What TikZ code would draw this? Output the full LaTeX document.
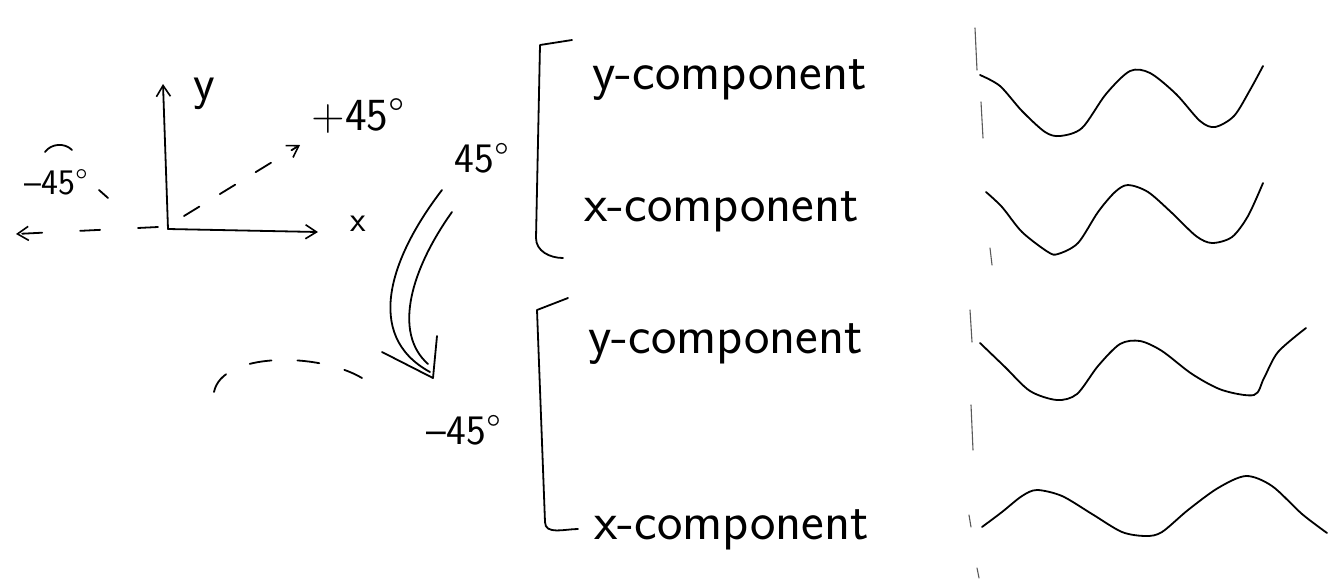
\documentclass[tikz,border=0pt]{standalone}
\usetikzlibrary{arrows.meta}

\tikzset{
  pen/.style={line width=1.8pt, line cap=round, line join=round},
  thinpen/.style={line width=1.1pt, line cap=round, gray!70!black},
  hand/.style={font=\sffamily\fontsize{#1}{#1}\selectfont, inner sep=0pt},
  barb/.style={-{Straight Barb[length=11pt,width=14pt,line width=1.6pt]}}
}

\begin{document}
\begin{tikzpicture}[x=1pt,y=-1pt]
\useasboundingbox (0,0) rectangle (1338,582);

% axes
\coordinate (o) at (168,229);
\coordinate (ytip) at (163,84);
\coordinate (xtip) at (318,232);
\draw[pen,barb] (o) -- (ytip);
\draw[pen,barb] (o) -- (xtip);
\node[hand=50] (ylab) at (204,94) {y};
\node[hand=36] (xlab) at (358,224) {x};

% +45 and -45 directions
\coordinate (ptip) at (300,145);
\coordinate (mtip) at (16,234);
\draw[pen,barb,dash pattern=on 18pt off 24pt] (184,216) -- (ptip);
\draw[pen,barb,dash pattern=on 20pt off 38pt] (158,227) -- (mtip);
\node[hand=46] (plus) at (358,116) {+45\textdegree};
\node[hand=36] (minus) at (56,182) {\textendash45\textdegree};
\draw[pen] (45,152) to[bend left=50] (72,150);
\draw[pen] (99,190) -- (108,198);

% faint arc under the axes
\draw[pen,dash pattern=on 22pt off 26pt] (214,392) .. controls (222,352) and (318,352) .. (362,378);

% turn from +45 to -45
\draw[pen] (442,190) .. controls (392,255) and (362,335) .. (430,372);
\draw[pen] (452,212) .. controls (412,268) and (392,332) .. (428,364);
\draw[pen] (382,352) -- (433,378) -- (437,336);

% 45 group
\node[hand=42] (a1) at (482,158) {45\textdegree};
\draw[pen] (572,40) -- (540,45) -- (536,238) to[out=-90,in=180] (563,258);
\node[hand=54,anchor=west] (y1) at (592,80) {y-component};
\node[hand=54,anchor=west] (x1) at (584,212) {x-component};

% -45 group
\node[hand=42] (a2) at (464,430) {\textendash45\textdegree};
\draw[pen] (568,298) -- (537,310) -- (545,522) to[out=-90,in=180] (578,529);
\node[hand=54,anchor=west] (y2) at (588,344) {y-component};
\node[hand=54,anchor=west] (x2) at (594,530) {x-component};

% waves
\draw[pen] plot[smooth] coordinates {(980,75) (1000,86) (1022,111) (1045,132) (1060,136) (1082,128) (1106,94) (1130,71) (1150,73) (1176,94) (1200,121) (1215,127) (1234,116) (1250,90) (1263,66)};
\draw[pen] plot[smooth] coordinates {(986,192) (1002,207) (1022,232) (1048,252) (1058,254) (1078,243) (1098,212) (1115,192) (1128,185) (1148,192) (1172,213) (1196,236) (1212,243) (1232,237) (1248,216) (1263,183)};
\draw[pen] plot[smooth] coordinates {(980,343) (1005,367) (1030,391) (1057,400) (1077,394) (1098,366) (1120,344) (1140,341) (1162,351) (1192,374) (1222,390) (1254,395) (1264,378) (1278,352) (1306,328)};
\draw[pen] plot[smooth] coordinates {(982,527) (1002,512) (1022,496) (1037,490) (1062,496) (1092,514) (1122,532) (1146,536) (1162,532) (1188,510) (1218,488) (1246,476) (1272,486) (1302,514) (1327,533)};

% marks left of the waves
\foreach \ya/\yb/\xa in {28/70/975, 102/138/981, 248/265/990, 310/342/970, 405/450/971, 515/527/969, 568/578/977}
  \draw[thinpen] (\xa,\ya) -- (\xa+2,\yb);

\end{tikzpicture}
\end{document}
